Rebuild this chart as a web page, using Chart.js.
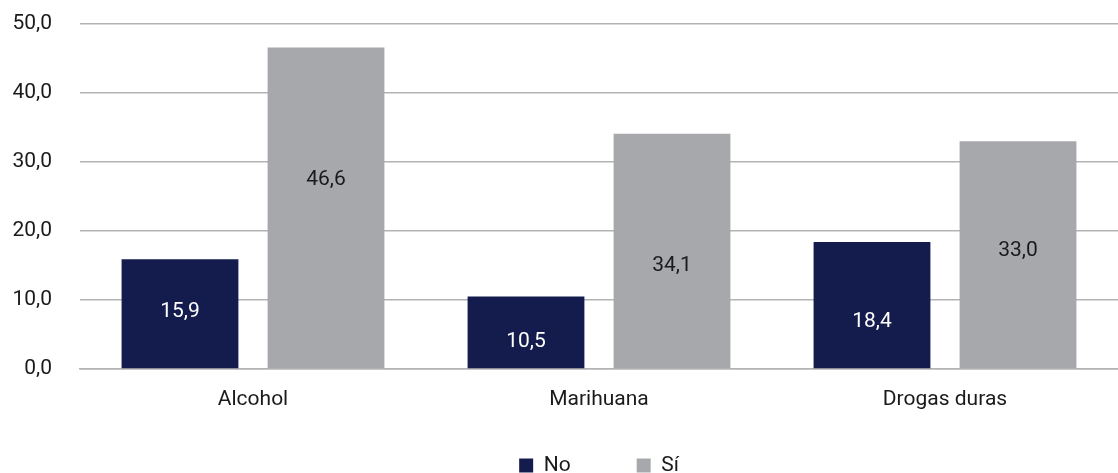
<!DOCTYPE html>
<html>
<head>
<meta charset="utf-8">
<script src="https://cdn.jsdelivr.net/npm/chart.js@4"></script>
<style>
  html, body { margin: 0; padding: 0; background: #fff; }
  #wrap { width: 1118px; height: 473px; }
</style>
</head>
<body>
<div id="wrap"><canvas id="chart"></canvas></div>
<script>
const categories = ['Alcohol', 'Marihuana', 'Drogas duras'];
const seriesNo = [15.9, 10.5, 18.4];
const seriesSi = [46.6, 34.1, 33.0];
const yTicks = [0, 10, 20, 30, 40, 50];

// where each value label sits inside its bar, as a share of the bar height
const labelAt = [[0.52, 0.37, 0.37], [0.59, 0.44, 0.52]];

const fmt = v => v.toFixed(1).replace('.', ',');
const FONT = 'Roboto';
const SIZE = 21;

// value labels drawn inside the bars
const barLabels = {
    id: 'barLabels',
    afterDatasetsDraw(chart) {
        const ctx = chart.ctx;
        const y = chart.scales.y;
        ctx.save();
        ctx.font = SIZE + 'px ' + FONT;
        ctx.textAlign = 'center';
        ctx.textBaseline = 'middle';
        chart.data.datasets.forEach((ds, i) => {
            const meta = chart.getDatasetMeta(i);
            meta.data.forEach((bar, j) => {
                const v = ds.data[j];
                ctx.fillStyle = i === 0 ? '#ffffff' : '#1a1a1a';
                ctx.fillText(fmt(v), bar.x, y.getPixelForValue(v * labelAt[i][j]));
            });
        });
        ctx.restore();
    }
};

new Chart(document.getElementById('chart'), {
    type: 'bar',
    data: {
        labels: categories,
        datasets: [
            { label: 'No', data: seriesNo, backgroundColor: '#141c4e' },
            { label: 'Sí', data: seriesSi, backgroundColor: '#a7a8ab' }
        ]
    },
    options: {
        responsive: true,
        maintainAspectRatio: false,
        animation: false,
        categoryPercentage: 0.844,
        barPercentage: 0.8,
        layout: { padding: { top: 0, left: 0, right: 0, bottom: -13 } },
        scales: {
            x: {
                grid: { display: false },
                border: { color: '#b3b3b3', width: 1.5 },
                ticks: { color: '#1a1a1a', font: { family: FONT, size: SIZE }, padding: 10 },
                afterFit: axis => { axis.height = 46; }
            },
            y: {
                min: 0,
                max: 50,
                afterBuildTicks: axis => { axis.ticks = yTicks.map(v => ({ value: v })); },
                afterFit: axis => {
                    axis.width = 80;
                    axis.paddingTop = 24;
                    axis.paddingBottom = 0;
                },
                grid: { color: '#b3b3b3', lineWidth: 1.5, drawTicks: false },
                border: { display: false },
                ticks: {
                    color: '#1a1a1a',
                    font: { family: FONT, size: SIZE },
                    padding: 28,
                    callback: v => fmt(v)
                }
            }
        },
        plugins: {
            legend: {
                position: 'bottom',
                fullSize: false,
                labels: {
                    boxWidth: 14,
                    boxHeight: 14,
                    padding: 40,
                    color: '#1a1a1a',
                    font: { family: FONT, size: SIZE },
                    // trailing spaces widen the gap between the two legend items
                    generateLabels: chart => Chart.defaults.plugins.legend.labels.generateLabels(chart)
                        .map((item, i) => i === 0 ? { ...item, text: item.text + '     ' } : item)
                }
            },
            tooltip: { enabled: false }
        }
    },
    plugins: [barLabels]
});
</script>
</body>
</html>
